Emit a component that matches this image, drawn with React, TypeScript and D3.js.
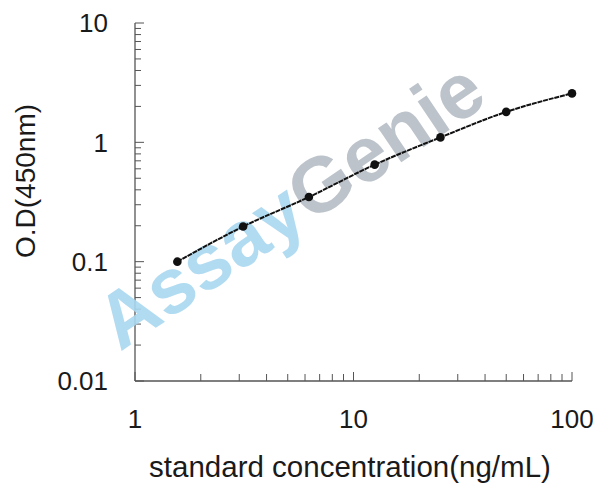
import React from 'react'
import * as d3 from 'd3'

// standard curve readings
const concentrations = [1.5625, 3.125, 6.25, 12.5, 25, 50, 100]
const odValues = [0.1, 0.197, 0.348, 0.65, 1.1, 1.8, 2.57]

const xTickLabels = [1, 10, 100]
const yTickLabels = [0.01, 0.1, 1, 10]

const xTitle = 'standard concentration(ng/mL)'
const yTitle = 'O.D(450nm)'
const markA = 'Assay'
const markB = 'Genie'

const font = '"Liberation Sans", Arial, sans-serif'

// minor ticks for every decade of a log domain
const logTicks = (lo: number, hi: number) => {
  const out: {v: number, major: boolean}[] = []
  for (let d = lo; d < hi; d *= 10) {
    for (let k = 1; k < 10; k++) out.push({v: d * k, major: k === 1})
  }
  out.push({v: hi, major: true})
  return out
}

export default function App() {
  const width = 608,
    height = 496

  const xScale = d3.scaleLog().domain([1, 100]).range([135, 572])
  const yScale = d3.scaleLog().domain([0.01, 10]).range([381, 23])

  const pts = concentrations.map((c, i) => [c, odValues[i]] as [number, number])

  const line = d3.line<[number, number]>()
    .x(d => xScale(d[0]))
    .y(d => yScale(d[1]))
    .curve(d3.curveMonotoneX)

  const x0 = xScale.range()[0],
    y0 = yScale.range()[0]

  const axisColor = '#555'

  return (
    <svg width={width} height={height} style={{position: 'absolute', left: 0, top: 0, background: '#fff'}}>
      {/* y axis */}
      <line x1={x0} y1={yScale(10)} x2={x0} y2={y0} stroke={axisColor} strokeWidth={1.3}/>
      {logTicks(0.01, 10).map((t, i) => (
        <line key={'yt' + i} x1={x0} x2={x0 + (t.major ? 9 : 6)} y1={yScale(t.v)} y2={yScale(t.v)}
          stroke={axisColor} strokeWidth={1}/>
      ))}
      {yTickLabels.map(v => (
        <text key={'yl' + v} x={108} y={yScale(v)} dy="0.36em" textAnchor="end"
          fontFamily={font} fontSize={26} fill="#1a1a1a">{v}</text>
      ))}

      {/* x axis */}
      <line x1={x0} y1={y0} x2={xScale(100)} y2={y0} stroke={axisColor} strokeWidth={1.3}/>
      {logTicks(1, 100).map((t, i) => (
        <line key={'xt' + i} x1={xScale(t.v)} x2={xScale(t.v)} y1={y0} y2={y0 - (t.major ? 9 : 7)}
          stroke={axisColor} strokeWidth={1}/>
      ))}
      {xTickLabels.map(v => (
        <text key={'xl' + v} x={xScale(v)} y={428} textAnchor="middle"
          fontFamily={font} fontSize={26} fill="#1a1a1a">{v}</text>
      ))}

      <text x={350} y={477} textAnchor="middle" fontFamily={font} fontSize={29.5} fill="#1a1a1a">{xTitle}</text>
      <text transform="translate(35,181) rotate(-90)" textAnchor="middle" fontFamily={font} fontSize={28} fill="#1a1a1a">{yTitle}</text>

      {/* watermark */}
      <text transform="translate(120,352) rotate(-34)" fontFamily={font} fontWeight="bold" fontSize={78} opacity={0.9}>
        <tspan fill="#a9d8f0">{markA}</tspan>
        <tspan fill="#b6bdc5">{markB}</tspan>
      </text>

      {/* fitted curve */}
      <path d={line(pts) || ''} fill="none" stroke="#111" strokeWidth={2} strokeDasharray="5 0.8"/>
      {pts.map((d, i) => (
        <circle key={'p' + i} cx={xScale(d[0])} cy={yScale(d[1])} r={4.3} fill="#111"/>
      ))}
    </svg>
  )
}
